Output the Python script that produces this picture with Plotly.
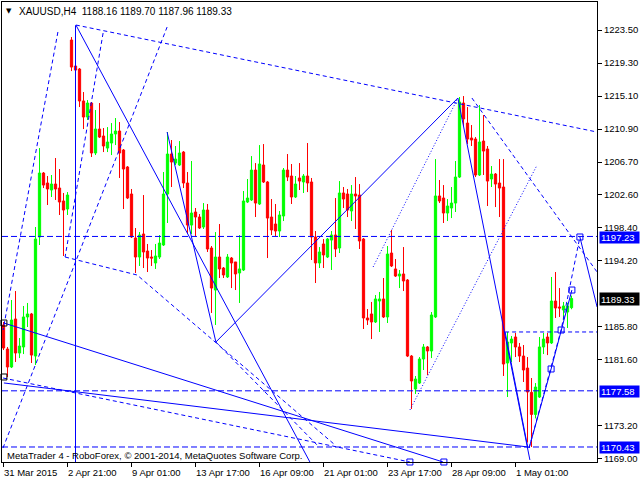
import plotly.graph_objects as go

# ---------------- data ----------------
bars = list(range(143))
opens = [1185.96, 1182.90, 1180.61, 1186.72, 1182.39, 1183.16, 1186.98, 1187.36, 1182.01, 1197.16,
         1205.30, 1204.03, 1203.14, 1203.90, 1203.39, 1201.74, 1200.72, 1222.23, 1218.92, 1218.54,
         1214.47, 1212.43, 1214.21, 1207.85, 1210.90, 1210.01, 1208.48, 1209.12, 1210.27, 1210.65,
         1208.23, 1206.07, 1202.63, 1197.03, 1194.61, 1197.54, 1195.37, 1194.61, 1193.85, 1194.61,
         1196.14, 1202.63, 1207.72, 1206.57, 1206.32, 1207.97, 1204.03, 1198.68, 1200.34, 1199.70,
         1198.43, 1200.59, 1195.76, 1190.41, 1194.61, 1193.21, 1192.07, 1194.48, 1193.98, 1192.58,
         1192.96, 1201.61, 1201.87, 1205.68, 1201.36, 1206.32, 1204.16, 1199.70, 1198.81, 1197.92,
         1199.83, 1205.68, 1204.92, 1202.25, 1204.67, 1204.16, 1204.92, 1204.16, 1197.16, 1193.85,
         1196.27, 1194.61, 1196.77, 1197.41, 1195.76, 1202.76, 1202.63, 1200.47, 1202.63, 1202.50,
         1196.90, 1186.85, 1187.36, 1186.34, 1189.01, 1189.27, 1186.98, 1195.12, 1193.09, 1192.19,
         1192.45, 1191.68, 1182.01, 1177.81, 1178.57, 1181.63, 1183.16, 1182.65, 1186.98, 1202.38,
         1202.12, 1200.21, 1200.85, 1201.48, 1204.79, 1214.21, 1211.66, 1209.76, 1209.63, 1205.05,
         1209.37, 1208.36, 1204.54, 1205.17, 1204.03, 1203.52, 1181.12, 1183.67, 1184.43, 1183.16,
         1182.01, 1180.48, 1177.38, 1174.58, 1176.79, 1183.16, 1184.43, 1183.67, 1189.01, 1188.25,
         1187.87, 1187.61, 1188.16]
highs = [1186.34, 1183.16, 1189.14, 1190.28, 1184.30, 1188.38, 1188.76, 1187.49, 1198.43, 1208.48,
         1205.43, 1204.92, 1205.05, 1207.21, 1205.81, 1202.76, 1202.88, 1222.61, 1219.05, 1218.67,
         1215.61, 1214.59, 1214.34, 1213.32, 1214.21, 1211.03, 1211.15, 1211.66, 1212.30, 1211.79,
         1208.36, 1206.19, 1203.27, 1198.30, 1197.79, 1202.50, 1196.27, 1195.50, 1196.27, 1197.41,
         1205.43, 1210.52, 1209.50, 1208.74, 1209.37, 1208.10, 1205.43, 1206.83, 1200.85, 1200.08,
         1201.48, 1201.36, 1196.01, 1197.79, 1198.81, 1193.34, 1194.99, 1194.61, 1193.98, 1197.41,
         1203.01, 1204.54, 1207.46, 1206.57, 1208.86, 1208.99, 1204.28, 1201.99, 1201.36, 1200.47,
         1205.94, 1207.72, 1206.45, 1204.92, 1206.57, 1205.17, 1209.12, 1204.67, 1197.92, 1195.88,
         1196.90, 1197.03, 1197.92, 1202.12, 1204.28, 1203.52, 1203.27, 1203.77, 1204.79, 1203.90,
         1197.03, 1187.99, 1188.89, 1189.77, 1190.16, 1191.94, 1196.01, 1198.05, 1194.36, 1192.96,
         1195.88, 1191.81, 1182.13, 1179.47, 1181.88, 1183.54, 1183.28, 1187.61, 1207.08, 1204.41,
         1203.77, 1201.99, 1203.52, 1206.83, 1214.98, 1215.10, 1213.70, 1211.41, 1209.88, 1213.96,
         1212.68, 1208.74, 1206.19, 1205.30, 1207.08, 1207.08, 1185.07, 1184.56, 1184.94, 1183.67,
         1183.41, 1181.88, 1179.21, 1178.57, 1184.43, 1184.94, 1184.94, 1192.07, 1192.70, 1190.66,
         1188.89, 1188.76, 1189.70]
lows = [1182.77, 1179.34, 1180.48, 1181.25, 1181.75, 1182.26, 1185.70, 1181.12, 1180.87, 1196.14,
        1203.39, 1201.23, 1202.25, 1201.87, 1199.96, 1194.74, 1199.96, 1218.28, 1218.16, 1213.70,
        1210.90, 1212.05, 1207.34, 1207.59, 1209.76, 1207.97, 1207.97, 1207.59, 1208.86, 1204.67,
        1200.72, 1201.99, 1197.03, 1192.58, 1193.47, 1193.21, 1192.70, 1193.47, 1193.09, 1194.36,
        1196.01, 1198.94, 1203.52, 1206.32, 1206.19, 1203.39, 1197.54, 1197.54, 1197.16, 1198.18,
        1198.18, 1195.25, 1187.49, 1185.96, 1191.94, 1191.94, 1191.94, 1190.66, 1190.41, 1188.76,
        1192.83, 1201.48, 1201.74, 1199.70, 1201.23, 1204.03, 1194.48, 1197.41, 1197.28, 1197.16,
        1199.19, 1204.28, 1201.36, 1202.12, 1203.14, 1202.76, 1202.88, 1194.23, 1191.30, 1193.21,
        1193.21, 1194.48, 1192.96, 1194.61, 1195.12, 1200.85, 1199.70, 1199.19, 1198.18, 1195.63,
        1185.45, 1185.96, 1184.17, 1186.21, 1185.07, 1186.85, 1186.21, 1193.34, 1192.07, 1190.66,
        1190.28, 1181.88, 1175.27, 1177.18, 1178.45, 1180.23, 1179.59, 1181.75, 1186.85, 1201.48,
        1198.94, 1199.19, 1199.57, 1200.34, 1204.67, 1211.28, 1208.99, 1208.74, 1204.79, 1204.92,
        1205.05, 1201.10, 1203.52, 1200.97, 1199.70, 1179.47, 1176.79, 1181.25, 1181.88, 1181.25,
        1178.70, 1171.00, 1170.43, 1174.07, 1176.67, 1182.26, 1182.13, 1183.54, 1186.85, 1186.98,
        1186.59, 1185.58, 1187.96]
closes = [1183.03, 1180.61, 1186.59, 1182.39, 1183.28, 1186.98, 1187.36, 1182.13, 1196.90, 1205.30,
          1203.77, 1203.27, 1203.90, 1203.27, 1201.61, 1200.59, 1202.50, 1218.79, 1218.41, 1214.47,
          1212.43, 1214.21, 1207.85, 1210.90, 1209.88, 1208.74, 1209.25, 1210.27, 1210.65, 1207.85,
          1205.81, 1202.12, 1197.16, 1194.61, 1197.41, 1195.25, 1194.48, 1194.48, 1194.74, 1196.39,
          1202.63, 1207.72, 1206.70, 1207.08, 1207.85, 1204.03, 1198.68, 1200.21, 1199.70, 1198.30,
          1200.59, 1195.63, 1190.66, 1194.61, 1193.09, 1192.32, 1194.61, 1193.85, 1192.45, 1193.09,
          1201.74, 1202.12, 1205.68, 1201.48, 1206.45, 1204.16, 1199.57, 1198.05, 1197.92, 1199.96,
          1205.68, 1204.79, 1202.25, 1203.90, 1204.28, 1204.92, 1204.03, 1197.16, 1193.85, 1195.25,
          1194.87, 1196.90, 1197.41, 1195.63, 1202.76, 1201.99, 1200.59, 1202.63, 1202.38, 1196.65,
          1186.85, 1186.59, 1186.34, 1189.27, 1189.27, 1186.98, 1194.99, 1193.47, 1192.19, 1192.45,
          1191.56, 1182.01, 1178.83, 1179.08, 1181.63, 1183.16, 1182.65, 1187.23, 1202.38, 1201.74,
          1200.21, 1201.10, 1201.48, 1204.79, 1214.34, 1212.18, 1209.63, 1209.50, 1205.05, 1209.25,
          1208.10, 1204.28, 1205.17, 1203.90, 1203.39, 1180.99, 1183.79, 1184.17, 1183.16, 1182.01,
          1180.23, 1177.43, 1174.58, 1178.06, 1183.16, 1184.17, 1183.67, 1189.01, 1188.12, 1188.12,
          1188.38, 1188.38, 1189.33]

tick_bars = [0, 16, 32, 48, 64, 80, 96, 112, 128]
tick_labels = ["31 Mar 2015", "2 Apr 21:00", "9 Apr 01:00", "13 Apr 17:00", "16 Apr 09:00",
               "21 Apr 01:00", "23 Apr 17:00", "28 Apr 09:00", "1 May 01:00"]
price_ticks = [1223.50, 1219.30, 1215.10, 1210.90, 1206.70, 1202.60, 1198.40, 1194.20,
               1185.80, 1181.60, 1173.20, 1169.00]
levels = [1197.23, 1177.58, 1170.43]
partial_level = 1185.07

# analysis objects drawn on the chart: (bar index list, price list)
solid_lines = [
    ([18, 18], [1224.10, 1166.0]),
    ([18.1, 76.6], [1224.14, 1168.52]),
    ([0.1, 109.9], [1186.21, 1168.52]),
    ([0.1, 131.1], [1178.58, 1170.43]),
    ([40.9, 53.1], [1210.52, 1183.79]),
    ([53.1, 113.6], [1183.79, 1214.85]),
    ([113.6, 131.6], [1214.85, 1168.78]),
    ([125.4, 131.1], [1185.07, 1170.30]),
    ([131.4, 136.9, 142.1], [1170.30, 1180.36, 1190.41]),
    ([144.1, 148.4], [1197.16, 1188.25]),
]
dashed_lines = [
    ([18.1, 148.4], [1224.14, 1210.52]),
    ([-0.125, 40.9], [1170.30, 1223.88]),
    ([13.6, -0.1], [1223.25, 1185.32]),
    ([24.9, 15.4], [1223.12, 1194.61]),
    ([15.4, 33.4, 82.9], [1194.61, 1192.32, 1170.68]),
    ([-0.1, 101.6], [1179.21, 1168.52]),
    ([53.1, 78.4], [1183.79, 1170.68]),
    ([117.1, 148.4], [1214.85, 1192.70]),
    ([131.4, 139.4, 144.1], [1170.30, 1185.32, 1197.16]),
    ([125.4, 148.4], [partial_level, partial_level]),
]
dotted_lines = [
    ([92.4, 113.6], [1193.34, 1214.85]),
    ([101.6, 133.4], [1175.14, 1206.32]),
]
blue_squares = ([136.9, 139.4, 142.1, 144.1, 101.6, 110.1],
                [1180.36, 1185.32, 1190.41, 1197.16, 1168.52, 1168.52])
black_squares = ([0.1, 0.1], [1186.21, 1179.34])

# ---------------- figure ----------------
X_RANGE = [-0.375, 148.375]
Y_RANGE = [1168.52, 1227.07]
BLUE = "#0000FF"
FONT = "Liberation Sans"

fig = go.Figure()
fig.add_trace(go.Candlestick(
    x=bars, open=opens, high=highs, low=lows, close=closes,
    increasing=dict(line=dict(color="#00FF00", width=1), fillcolor="#00FF00"),
    decreasing=dict(line=dict(color="#FF0000", width=1), fillcolor="#FF0000"),
    whiskerwidth=0, hoverinfo="skip", showlegend=False))

for lv in levels:
    fig.add_trace(go.Scatter(x=list(X_RANGE), y=[lv, lv], mode="lines",
                             line=dict(color=BLUE, width=1, dash="6px,3px"), hoverinfo="skip"))
for xs, ys in solid_lines:
    fig.add_trace(go.Scatter(x=xs, y=ys, mode="lines",
                             line=dict(color=BLUE, width=1), hoverinfo="skip"))
for xs, ys in dashed_lines:
    fig.add_trace(go.Scatter(x=xs, y=ys, mode="lines",
                             line=dict(color=BLUE, width=1, dash="4px,3px"), hoverinfo="skip"))
for xs, ys in dotted_lines:
    fig.add_trace(go.Scatter(x=xs, y=ys, mode="lines",
                             line=dict(color=BLUE, width=1, dash="1px,2px"), hoverinfo="skip"))
fig.add_trace(go.Scatter(x=blue_squares[0], y=blue_squares[1], mode="markers", cliponaxis=False,
                         marker=dict(symbol="square-open", size=6, color=BLUE, line=dict(width=1)),
                         hoverinfo="skip"))
fig.add_trace(go.Scatter(x=black_squares[0], y=black_squares[1], mode="markers", cliponaxis=False,
                         marker=dict(symbol="square-open", size=6, color="black", line=dict(width=1)),
                         hoverinfo="skip"))

PX0, PX1, PY0, PY1 = 2, 597, 2, 462
def px(x):
    return (x - PX0) / (PX1 - PX0)
def py(y):
    return (PY1 - y) / (PY1 - PY0)

annotations = []
annotations.append(dict(xref="paper", yref="paper", x=px(4), y=py(11), xanchor="left", yanchor="middle",
                        text="▼", showarrow=False, font=dict(family="DejaVu Sans", size=7, color="black")))
header = "XAUUSD,H4  %.2f %.2f %.2f %.2f" % (opens[-1], highs[-1], lows[-1], closes[-1])
annotations.append(dict(xref="paper", yref="paper", x=px(17), y=py(11), xanchor="left", yanchor="middle",
                        text=header, showarrow=False, font=dict(family=FONT, size=10, color="black")))
annotations.append(dict(xref="paper", yref="paper", x=px(5), y=py(455), xanchor="left", yanchor="middle",
                        text="MetaTrader 4 - RoboForex, © 2001-2014, MetaQuotes Software Corp.",
                        showarrow=False, font=dict(family=FONT, size=9.5, color="black")))
for b, lab in zip(tick_bars, tick_labels):
    annotations.append(dict(xref="x", yref="paper", x=b, y=0, xanchor="left", yanchor="top",
                            xshift=-2, yshift=-3, text=lab, showarrow=False,
                            font=dict(family=FONT, size=9.5, color="black")))
for lv in levels:
    annotations.append(dict(xref="paper", yref="y", x=1, y=lv, xanchor="left", yanchor="middle",
                            xshift=2, yshift=-1, text="%.2f" % lv, showarrow=False, bgcolor=BLUE,
                            width=37, height=9, align="left", borderpad=1,
                            font=dict(family=FONT, size=9.5, color="white")))
annotations.append(dict(xref="paper", yref="y", x=1, y=closes[-1], xanchor="left", yanchor="middle",
                        xshift=2, text="%.2f" % closes[-1], showarrow=False, bgcolor="black",
                        width=37, height=10, align="left", borderpad=1,
                        font=dict(family=FONT, size=9.5, color="white")))

fig.update_layout(
    template="none", width=640, height=480,
    margin=dict(l=PX0, r=640 - PX1, t=PY0, b=480 - PY1, pad=0),
    paper_bgcolor="white", plot_bgcolor="white", showlegend=False,
    font=dict(family=FONT, size=9.5, color="black"),
    boxgap=0.25, boxgroupgap=0.25,
    annotations=annotations,
    xaxis=dict(range=X_RANGE, showgrid=False, zeroline=False, showline=True, mirror=True,
               linecolor="black", linewidth=1, ticks="outside", ticklen=4, tickcolor="black",
               tickvals=tick_bars, showticklabels=False, rangeslider=dict(visible=False),
               automargin=False, fixedrange=True),
    yaxis=dict(range=Y_RANGE, side="right", showgrid=False, zeroline=False, showline=True,
               mirror=True, linecolor="black", linewidth=1, ticks="outside", ticklen=4,
               tickcolor="black", tickvals=price_ticks, ticktext=["%.2f" % t for t in price_ticks],
               tickfont=dict(family=FONT, size=9.5, color="black"), automargin=False,
               fixedrange=True),
)

fig.write_html("out.html", config={"displayModeBar": False},
               post_script="document.body.style.margin='0';document.body.style.overflow='hidden';")
